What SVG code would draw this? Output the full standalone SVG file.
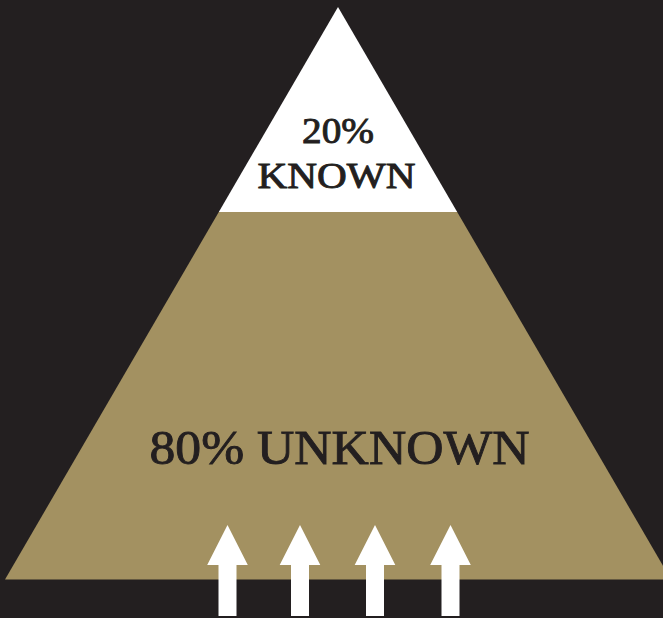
<svg xmlns="http://www.w3.org/2000/svg" width="663" height="618" viewBox="0 0 663 618">
<style>
.lbl{font-family:"Liberation Serif","Times New Roman",serif;fill:#231f20;stroke:#231f20;stroke-width:0.9;text-anchor:middle}
.arrow{fill:#ffffff}
</style>
<defs>
<path id="up" d="M0,0 L20.3,40 L9,40 L9,91 L-9,91 L-9,40 L-20.3,40 Z"/>
</defs>
<rect width="663" height="618" fill="#231f20"/>
<g id="unknown">
<polygon points="218.8,212 457.2,212 671,579.5 5,579.5" fill="#a39161"/>
<text class="lbl" x="339.5" y="464" font-size="49" textLength="380" lengthAdjust="spacingAndGlyphs">80% UNKNOWN</text>
</g>
<g id="known">
<polygon points="338,7 457.2,212 218.8,212" fill="#ffffff"/>
<text class="lbl" x="338" y="143" font-size="36" textLength="72" lengthAdjust="spacingAndGlyphs">20%</text>
<text class="lbl" x="336.5" y="188" font-size="35" textLength="158" lengthAdjust="spacingAndGlyphs">KNOWN</text>
</g>
<g id="connectors">
<use href="#up" class="arrow" x="227.5" y="525"/>
<use href="#up" class="arrow" x="300" y="525"/>
<use href="#up" class="arrow" x="375" y="525"/>
<use href="#up" class="arrow" x="450.5" y="525"/>
</g>
</svg>
